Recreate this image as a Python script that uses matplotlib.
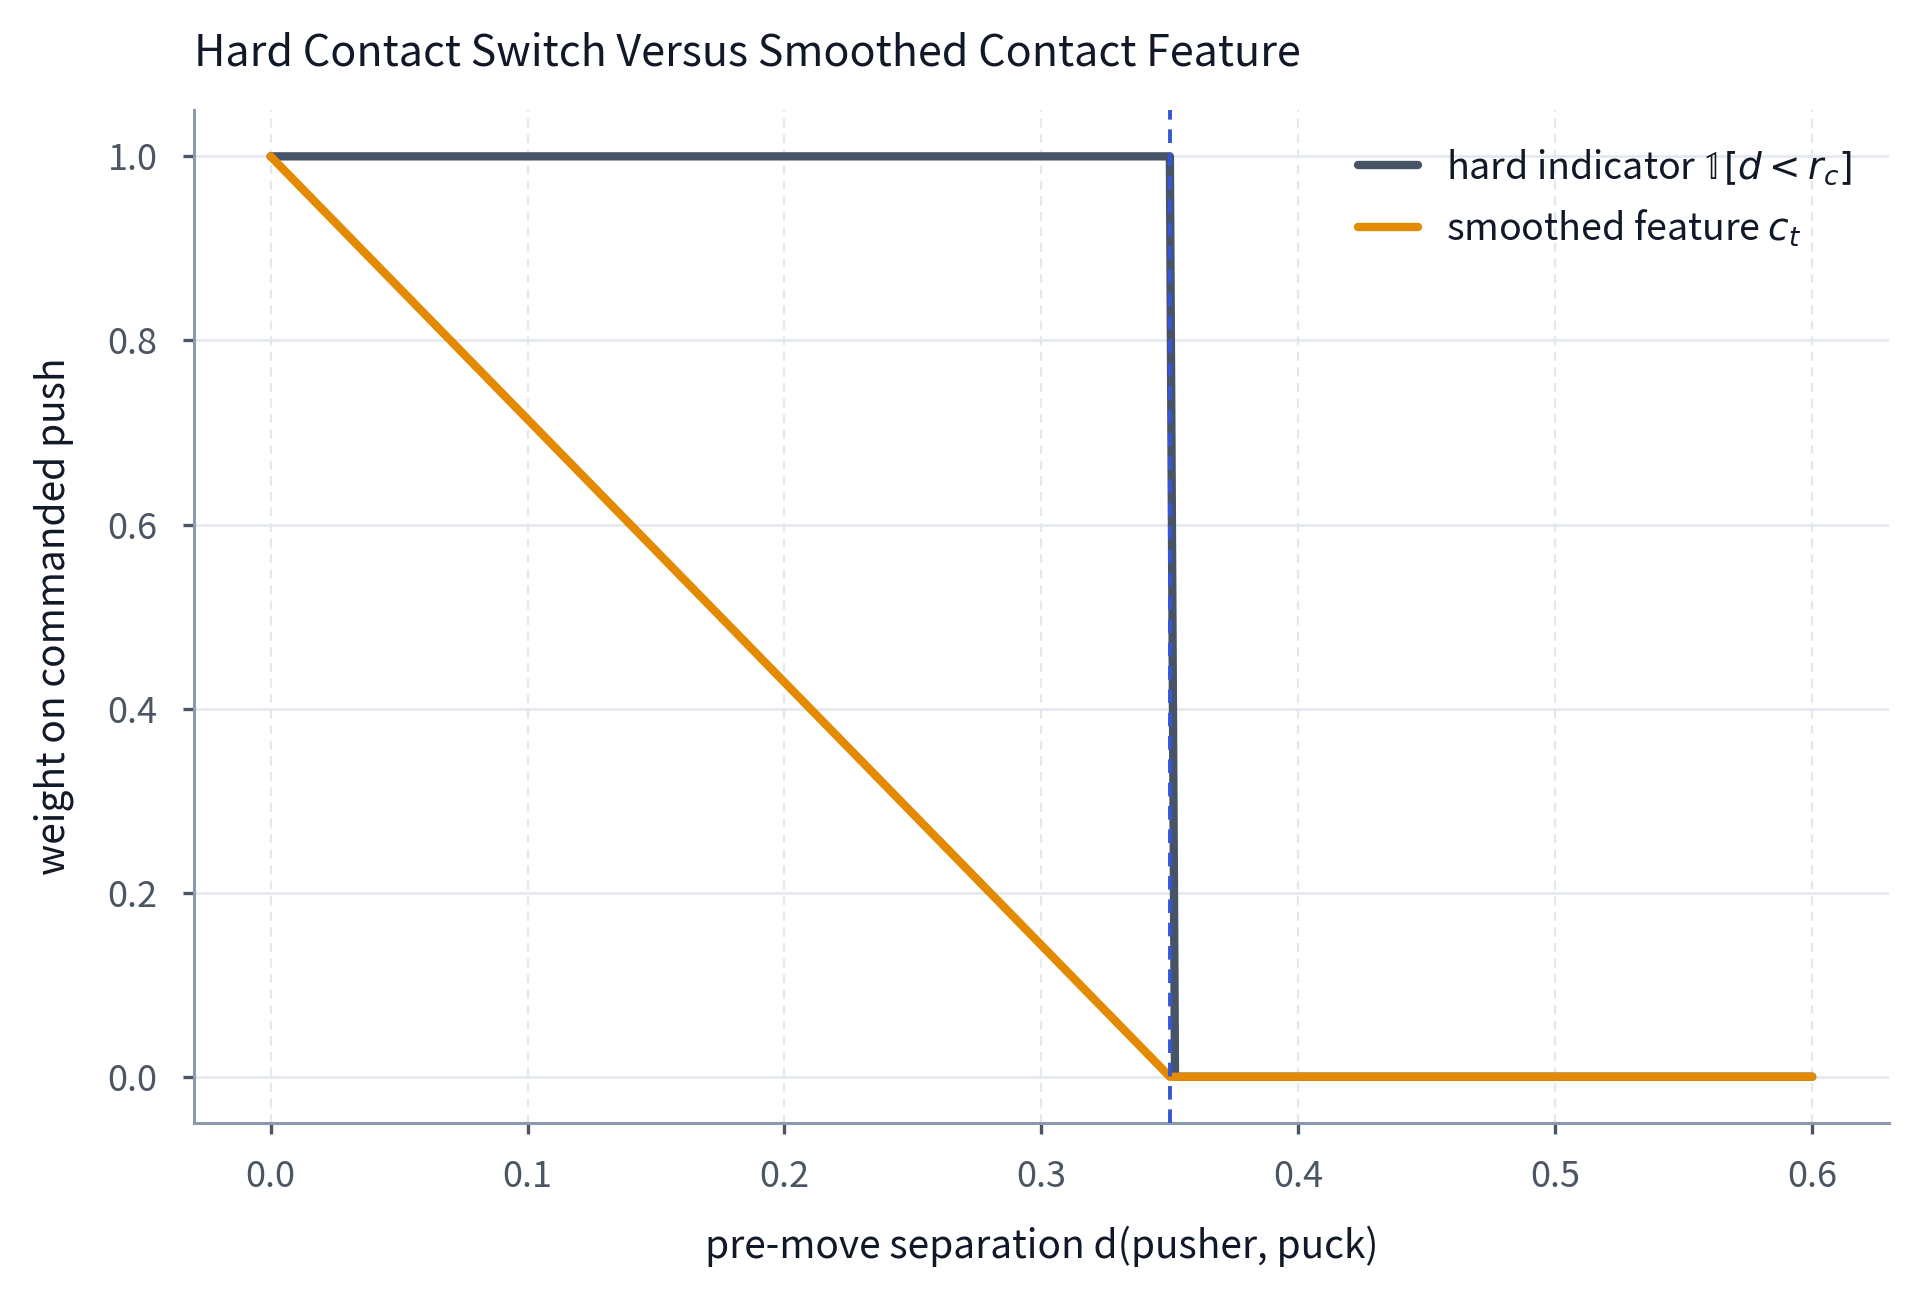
import matplotlib
matplotlib.use('Agg')
import matplotlib.pyplot as plt

plt.rcParams['font.family'] = ['Noto Sans CJK KR', 'DejaVu Sans']
plt.rcParams['axes.unicode_minus'] = False

# contact radius and samples
r_c = 0.35
d_hard = [0.0, 0.35, 0.352, 0.6]
w_hard = [1.0, 1.0, 0.0, 0.0]
d_smooth = [0.0, 0.35, 0.6]
w_smooth = [1.0, 0.0, 0.0]
x_ticks = [0.0, 0.1, 0.2, 0.3, 0.4, 0.5, 0.6]
y_ticks = [0.0, 0.2, 0.4, 0.6, 0.8, 1.0]

text_col = '#111827'
tick_col = '#4b5563'
spine_col = '#8b99ad'

fig = plt.figure(figsize=(9.6, 6.46), dpi=200)
ax = fig.add_axes([0.1008, 0.131, 0.8832, 0.7836])

ax.plot(d_hard, w_hard, color='#475467', lw=3.0, solid_capstyle='round',
        label=r'hard indicator $\mathbb{1}[d < r_c]$', zorder=3)
ax.plot(d_smooth, w_smooth, color='#e38a00', lw=3.0, solid_capstyle='round',
        label=r'smoothed feature $c_t$', zorder=4)
ax.axvline(r_c, color='#3557d4', lw=1.4, ls=(0, (3.5, 2.5)), zorder=5)

ax.set_xticks(x_ticks)
ax.set_yticks(y_ticks)
ax.grid(axis='y', color='#e3e8ee', lw=0.9)
ax.grid(axis='x', color='#e3e8ee', lw=0.8, ls=(0, (4, 3)))
ax.set_axisbelow(True)

for s in ['top', 'right']:
    ax.spines[s].set_visible(False)
for s in ['left', 'bottom']:
    ax.spines[s].set_color(spine_col)
    ax.spines[s].set_linewidth(1.1)
ax.tick_params(colors=tick_col, labelsize=13, length=4, width=1.2, pad=9)

ax.set_xlabel('pre-move separation d(pusher, puck)', fontsize=14, color=text_col, labelpad=11)
ax.set_ylabel('weight on commanded push', fontsize=14, color=text_col, labelpad=12)
ax.set_title('Hard Contact Switch Versus Smoothed Contact Feature', fontsize=15.5,
             color=text_col, loc='left', pad=16)

leg = ax.legend(loc='upper right', frameon=False, fontsize=13.5, handlelength=1.6,
                handletextpad=0.75, labelcolor=text_col, borderaxespad=0.6,
                labelspacing=0.55)

fig.savefig('out.png', dpi=200)
